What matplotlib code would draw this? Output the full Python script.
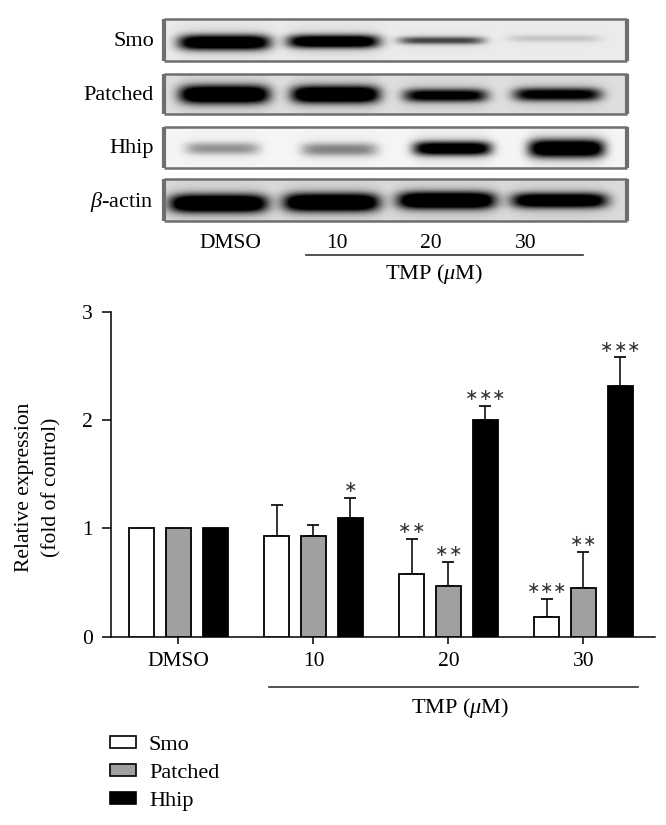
import numpy as np
import matplotlib
matplotlib.use('Agg')
import matplotlib.pyplot as plt
from matplotlib.patches import Patch

plt.rcParams['font.family'] = ['Liberation Serif', 'DejaVu Serif']
plt.rcParams['mathtext.fontset'] = 'custom'
plt.rcParams['mathtext.rm'] = 'Liberation Serif'
plt.rcParams['mathtext.it'] = 'Liberation Serif:italic'

W, H = 666, 825

# bar chart data
groups = ['DMSO', '10', '20', '30']
smo = [1.0, 0.93, 0.58, 0.18]
patched = [1.0, 0.93, 0.47, 0.45]
hhip = [1.0, 1.10, 2.00, 2.32]
smo_err = [0, 0.29, 0.32, 0.17]
patched_err = [0, 0.10, 0.22, 0.33]
hhip_err = [0, 0.18, 0.13, 0.26]
smo_stars = [0, 0, 2, 3]
patched_stars = [0, 0, 2, 2]
hhip_stars = [0, 1, 3, 3]

# blot data: band darkness per lane (0-1), thickness, lane position
blot_names = ['Smo', 'Patched', 'Hhip', r'$\beta$-actin']
blot_bg = [0.92, 0.87, 0.96, 0.86]
blot_dark = [[1.25, 1.2, 0.62, 0.14],
             [1.3, 1.3, 0.95, 0.95],
             [0.36, 0.42, 1.2, 1.3],
             [1.3, 1.3, 1.3, 1.15]]
blot_thick = [[7.5, 6.5, 3.8, 3.5],
              [9, 8.5, 6.5, 6.5],
              [6, 6.5, 7, 9],
              [9, 9, 8.5, 7.5]]
blot_center_x = [[224, 333, 441, 554],
                 [224, 335, 445, 557],
                 [222, 339, 452, 566],
                 [218, 331, 446, 559]]
blot_half = [[46, 46, 43, 46],
             [45, 44, 42, 44],
             [37, 38, 39, 38],
             [49, 48, 49, 48]]
blot_center_y = [[23, 22, 21, 19],
                 [20, 20, 21, 20],
                 [21, 22, 21, 21],
                 [24, 23, 21, 21]]
blot_top = [19, 74, 127, 179]
blot_bot = [61, 114, 168, 221]
blot_label_y = [42, 95, 148, 202]
blot_left, blot_right = 164, 627


def px_axes(x0, y0, x1, y1):
    return fig.add_axes([x0 / W, 1 - y1 / H, (x1 - x0) / W, (y1 - y0) / H])


fig = plt.figure(figsize=(W / 100, H / 100), dpi=100)

# western blot panels
for i in range(4):
    top, bot = blot_top[i], blot_bot[i]
    a = px_axes(blot_left, top, blot_right, bot)
    xx, yy = np.meshgrid(np.arange(blot_left, blot_right), np.arange(bot - top))
    img = np.full(xx.shape, blot_bg[i])
    for c, hw, d, t, cy in zip(blot_center_x[i], blot_half[i], blot_dark[i],
                               blot_thick[i], blot_center_y[i]):
        along = np.exp(-np.abs((xx - c) / hw) ** 6)
        across = np.exp(-np.abs((yy - cy) / t) ** 2.4)
        halo = np.exp(-np.abs((yy - cy) / (t * 2.0)) ** 2)
        img -= 0.95 * d * along * across + 0.12 * min(d, 1) * along * halo
    a.imshow(np.clip(img, 0, 1), cmap='gray', vmin=0, vmax=1, aspect='auto')
    a.set_xticks([])
    a.set_yticks([])
    for s in a.spines.values():
        s.set_color('#6e6e6e')
        s.set_linewidth(1.8)
        s.set_capstyle('butt')
    a.spines['left'].set_linewidth(3.0)
    a.spines['right'].set_linewidth(3.0)
    fig.text(154 / W, 1 - blot_label_y[i] / H, blot_names[i], ha='right',
             va='center', fontsize=16)

# labels under the blots
for lab, xp in zip(groups, [230, 337, 431, 526]):
    fig.text(xp / W, 1 - 243 / H, lab, ha='center', va='center', fontsize=15.5)
fig.add_artist(plt.Line2D([306 / W, 583 / W], [1 - 255 / H] * 2, color='#333333', lw=1.2))
fig.text(434 / W, 1 - 274 / H, r'TMP ($\mu$M)', ha='center', va='center', fontsize=16)

# bar chart
ax = px_axes(111, 312, 655, 636.5)
x = np.arange(4)
off = 0.272
bw = 0.185
bars = [(smo, smo_err, smo_stars, 'white', -off),
        (patched, patched_err, patched_stars, '#a0a0a3', 0),
        (hhip, hhip_err, hhip_stars, 'black', off)]
for vals, errs, stars, col, d in bars:
    ax.bar(x + d, vals, bw, color=col, edgecolor='black', linewidth=1.3, zorder=3)
    for xi, v, e, st in zip(x + d, vals, errs, stars):
        if e > 0:
            ax.errorbar(xi, v, yerr=[[0], [e]], color='#111111', lw=1.2, capsize=4.5,
                        capthick=1.3, zorder=2)
        for k in range(st):
            ax.annotate('\u2217', (xi, v + e), xytext=((k - (st - 1) / 2) * 9.6, 7.5),
                        textcoords='offset points', ha='center', va='center',
                        fontsize=11.5, family=['DejaVu Sans'], color='#333333')

ax.set_xlim(-0.5, 3.53)
ax.set_ylim(0, 3)
ax.set_yticks([0, 1, 2, 3])
ax.set_xticks(x)
ax.set_xticklabels(groups)
ax.tick_params(axis='y', length=6.5, width=1.1, labelsize=15.5, pad=6.5)
ax.tick_params(axis='x', length=5, width=1.1, labelsize=15.5, pad=6)
for s in ['top', 'right']:
    ax.spines[s].set_visible(False)
ax.spines['left'].set_linewidth(1.1)
ax.spines['bottom'].set_linewidth(1.1)

fig.text(38.5 / W, 1 - 487 / H, 'Relative expression\n(fold of control)', rotation=90,
         ha='center', va='center', fontsize=15.5, linespacing=1.55, multialignment='center')

fig.add_artist(plt.Line2D([269 / W, 638 / W], [1 - 687 / H] * 2, color='#333333', lw=1.2))
fig.text(460 / W, 1 - 708 / H, r'TMP ($\mu$M)', ha='center', va='center', fontsize=16)

# legend
handles = [Patch(facecolor='white', edgecolor='black', linewidth=1.2, label='Smo'),
           Patch(facecolor='#a0a0a3', edgecolor='black', linewidth=1.2, label='Patched'),
           Patch(facecolor='black', edgecolor='black', linewidth=1.2, label='Hhip')]
fig.legend(handles=handles, loc='upper left', bbox_to_anchor=(110 / W, 1 - 736 / H),
           frameon=False, fontsize=16, handlelength=1.17, handleheight=0.45,
           labelspacing=0.41, handletextpad=0.58, borderpad=0, borderaxespad=0)

fig.savefig('out.png', dpi=100)
